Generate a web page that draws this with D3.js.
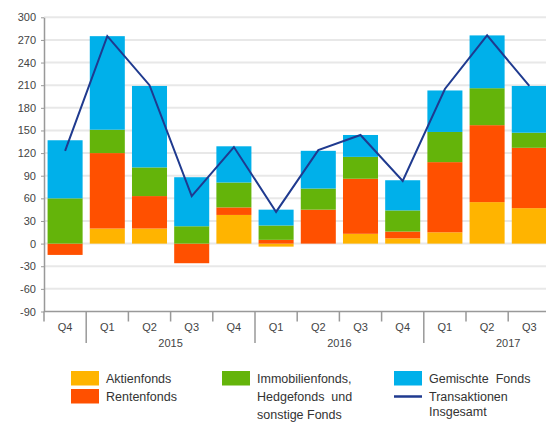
<!DOCTYPE html>
<html lang="de">
<head>
  <meta charset="UTF-8">
  <title>Transaktionen Investmentfonds</title>
  <script src="https://d3js.org/d3.v7.min.js"></script>
  <style>
    body {
      margin: 0;
      background: #fff;
      font-family: 'Liberation Sans', Arial, sans-serif;
    }
    .axis text { fill: #444; font-size: 11px; }
    .grid line { stroke: #e8e8e8; stroke-width: 2; }
    .legend text { fill: #333; font-size: 12.5px; }
  </style>
</head>
<body>
<svg width="546" height="423"></svg>
<script>
  // quarters shown on the x axis
  const quarters = ["Q4", "Q1", "Q2", "Q3", "Q4", "Q1", "Q2", "Q3", "Q4", "Q1", "Q2", "Q3"];
  const years = [
    { label: "2015", first: 1 },
    { label: "2016", first: 5 },
    { label: "2017", first: 9 }
  ];
  const yTicks = [-90, -60, -30, 0, 30, 60, 90, 120, 150, 180, 210, 240, 270, 300];

  // series values
  const aktienfonds   = [0, 20, 20, 0, 38, -4, 0, 13, 7, 15, 55, 47];
  const rentenfonds   = [-15, 100, 43, -26, 10, 5, 45, 73, 9, 93, 102, 80];
  const immobilien    = [60, 31, 38, 23, 33, 19, 28, 29, 28, 40, 49, 20];
  const gemischte     = [77, 124, 108, 65, 48, 21, 50, 29, 40, 55, 70, 62];
  const insgesamt     = [123, 275, 210, 63, 128, 42, 124, 144, 83, 205, 276, 209];

  const keys = ["aktien", "renten", "immo", "gem"];
  const colors = { aktien: "#ffb400", renten: "#ff5000", immo: "#64b40a", gem: "#00b0ea" };
  const lineColor = "#1f3a8f";

  const table = quarters.map((q, i) => ({
    i: i,
    aktien: aktienfonds[i],
    renten: rentenfonds[i],
    immo: immobilien[i],
    gem: gemischte[i]
  }));

  const svg = d3.select("svg"),
        width = +svg.attr("width");

  const x0 = 44;
  const x = d3.scaleBand()
    .domain(d3.range(quarters.length))
    .range([x0, x0 + 12 * 42.2])
    .paddingInner(0.17)
    .paddingOuter(0.085);

  const y = d3.scaleLinear()
    .domain([-90, 300])
    .range([311.5, 17.3]);

  // grid lines
  svg.append("g")
    .attr("class", "grid")
    .selectAll("line")
    .data(yTicks.filter(d => d > -90))
    .join("line")
    .attr("x1", x0)
    .attr("x2", width)
    .attr("y1", d => y(d))
    .attr("y2", d => y(d));

  // y axis
  const yAxis = svg.append("g")
    .attr("class", "axis")
    .attr("transform", `translate(${x0},0)`)
    .call(d3.axisLeft(y)
      .tickValues(yTicks)
      .tickFormat(d => String(d))
      .tickSize(3)
      .tickPadding(5)
      .tickSizeOuter(0));
  yAxis.select(".domain").attr("stroke", "#999").attr("stroke-width", 1.5);
  yAxis.selectAll(".tick line").attr("stroke", "#999");

  // stacked bars
  const series = d3.stack()
    .keys(keys)
    .offset(d3.stackOffsetDiverging)(table);

  svg.append("g")
    .selectAll("g")
    .data(series)
    .join("g")
    .attr("fill", d => colors[d.key])
    .selectAll("rect")
    .data(d => d)
    .join("rect")
    .attr("x", d => x(d.data.i))
    .attr("width", x.bandwidth())
    .attr("y", d => y(Math.max(d[0], d[1])))
    .attr("height", d => Math.abs(y(d[0]) - y(d[1])));

  // x axis line and ticks
  const yBase = y(-90);
  const xAxis = svg.append("g").attr("class", "axis");
  xAxis.append("line")
    .attr("x1", x0).attr("x2", width)
    .attr("y1", yBase).attr("y2", yBase)
    .attr("stroke", "#999").attr("stroke-width", 1.5);

  const step = x.step();
  const longTicks = years.map(d => d.first);
  xAxis.selectAll("line.tick")
    .data(d3.range(quarters.length))
    .join("line")
    .attr("class", "tick")
    .attr("x1", i => x0 + i * step)
    .attr("x2", i => x0 + i * step)
    .attr("y1", yBase)
    .attr("y2", i => longTicks.includes(i) ? 343 : yBase + 10)
    .attr("stroke", "#999")
    .attr("stroke-width", 1.5);

  xAxis.selectAll("text.q")
    .data(quarters)
    .join("text")
    .attr("class", "q")
    .attr("x", (d, i) => x(i) + x.bandwidth() / 2)
    .attr("y", 327)
    .attr("dy", "0.35em")
    .attr("text-anchor", "middle")
    .attr("font-size", "10.5px")
    .text(d => d);

  xAxis.selectAll("text.year")
    .data(years)
    .join("text")
    .attr("class", "year")
    .attr("x", d => x0 + (d.first + 2) * step)
    .attr("y", 343)
    .attr("dy", "0.35em")
    .attr("text-anchor", "middle")
    .attr("font-size", "10.5px")
    .text(d => d.label);

  // total line
  const line = d3.line()
    .x((d, i) => x(i) + x.bandwidth() / 2)
    .y(d => y(d));

  svg.append("path")
    .datum(insgesamt)
    .attr("d", line)
    .attr("fill", "none")
    .attr("stroke", lineColor)
    .attr("stroke-width", 2);

  // legend
  const legendItems = [
    { type: "rect", color: colors.aktien, x: 71, y: 371, lines: ["Aktienfonds"], lh: 20 },
    { type: "rect", color: colors.renten, x: 71, y: 389, lines: ["Rentenfonds"], lh: 20 },
    { type: "rect", color: colors.immo, x: 222, y: 371, lines: ["Immobilienfonds,", "Hedgefonds  und", "sonstige Fonds"], lh: 18 },
    { type: "rect", color: colors.gem, x: 394, y: 371, lines: ["Gemischte  Fonds"], lh: 15 },
    { type: "line", color: lineColor, x: 394, y: 389, lines: ["Transaktionen", "Insgesamt"], lh: 15 }
  ];

  const legend = svg.append("g").attr("class", "legend");
  const item = legend.selectAll("g")
    .data(legendItems)
    .join("g")
    .attr("transform", d => `translate(${d.x},${d.y})`);

  item.filter(d => d.type === "rect")
    .append("rect")
    .attr("width", 28)
    .attr("height", 14.5)
    .attr("fill", d => d.color);

  item.filter(d => d.type === "line")
    .append("line")
    .attr("x1", 0).attr("x2", 28)
    .attr("y1", 7.5).attr("y2", 7.5)
    .attr("stroke", d => d.color)
    .attr("stroke-width", 2.5);

  item.append("text")
    .selectAll("tspan")
    .data(d => d.lines.map((t, k) => ({ t, k, lh: d.lh })))
    .join("tspan")
    .attr("x", 35)
    .attr("y", d => 7.5 + d.k * d.lh)
    .attr("dy", "0.35em")
    .style("white-space", "pre")
    .text(d => d.t);
</script>
</body>
</html>
